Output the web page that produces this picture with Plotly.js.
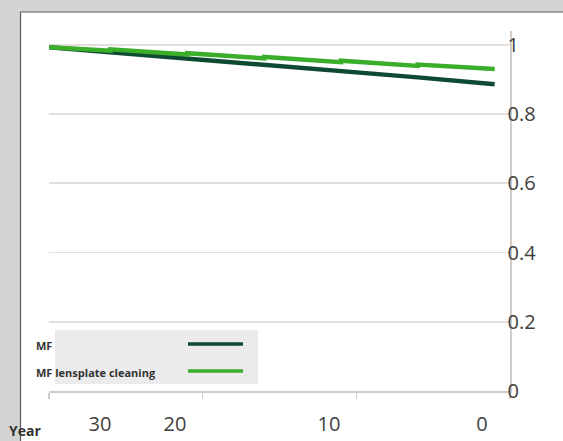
<!DOCTYPE html>
<html><head><meta charset="utf-8">
<script src="https://cdn.plot.ly/plotly-3.0.1.min.js"></script>
<style>html,body{margin:0;padding:0;background:#ffffff;overflow:hidden;} #chart{width:563px;height:441px;}</style>
</head><body><div id="chart"></div>
<script>
// ---- data ----
const mfYears = [30, 26, 21, 16, 11, 6, 1];
const mfValues = [0.993, 0.979, 0.961, 0.943, 0.925, 0.906, 0.886];
const cleanYears = [30, 26, 26, 21, 21, 16, 16, 11, 11, 6, 6, 1];
const cleanValues = [0.993, 0.983, 0.987, 0.972, 0.976, 0.961, 0.965, 0.950, 0.954, 0.939, 0.943, 0.930];
const seriesNames = ["MF", "MF lensplate cleaning"];
const xTickYears = [30, 20, 10, 0];
const xTickLabels = ["30", "20", "10", "0"];
const yTickValues = [0, 0.2, 0.4, 0.6, 0.8, 1];
const yTickLabels = ["0", "0.2", "0.4", "0.6", "0.8", "1"];
const xAxisTitle = "Year";

// ---- layout helpers ----
const W = 563, H = 441, L = 49, R = 53, T = 31, B = 50;
const pw = W - L - R, ph = H - T - B;
const px = x => (x - L) / pw;
const py = y => (H - B - y) / ph;
const xLabelPos = [26.68, 21.8, 11.78, 1.82];
const colors = ["#0e4a31", "#3aae2b"];
const tickFont = {family: "Open Sans", size: 20, color: "#404040"};
const axisGrey = "#d0ccc9";
const outerGrey = "#d4d4d4";

const traces = [
  {x: mfYears, y: mfValues, mode: "lines", name: seriesNames[0],
   line: {color: colors[0], width: 4.5}, hoverinfo: "skip", showlegend: false},
  {x: cleanYears, y: cleanValues, mode: "lines", name: seriesNames[1],
   line: {color: colors[1], width: 4.5}, hoverinfo: "skip", showlegend: false},
  {x: [null], y: [null], xaxis: "x2", mode: "lines", hoverinfo: "skip", showlegend: false}
];

const legendFont = {family: "Open Sans", size: 11, color: "#333333", weight: "bold"};

const layout = {
  width: W, height: H,
  margin: {l: L, r: R, t: T, b: B, pad: 0},
  paper_bgcolor: "#ffffff",
  plot_bgcolor: "#ffffff",
  showlegend: false,
  xaxis: {range: [30, 0], tickvals: xTickYears, showticklabels: false,
          ticks: "outside", ticklen: 6, tickwidth: 1.5, tickcolor: axisGrey,
          showline: true, linecolor: axisGrey, linewidth: 1.5,
          showgrid: false, zeroline: false, fixedrange: true},
  xaxis2: {overlaying: "x", anchor: "y", side: "bottom", range: [30, 0],
           tickvals: xLabelPos, ticktext: xTickLabels, ticks: "",
           showline: false, showgrid: false, zeroline: false,
           tickfont: tickFont, ticklabelstandoff: 19, fixedrange: true},
  yaxis: {side: "right", range: [0, 1.04], tickvals: yTickValues, ticktext: yTickLabels,
          showgrid: true, gridcolor: "#e3dfdc", gridwidth: 1.8,
          showline: true, linecolor: axisGrey, linewidth: 1.5,
          ticks: "", zeroline: false, tickfont: tickFont,
          ticklabelstandoff: -8, fixedrange: true},
  shapes: [
    {type: "rect", xref: "paper", yref: "paper", layer: "below",
     x0: px(-5), x1: px(20), y0: py(460), y1: py(-5),
     fillcolor: outerGrey, line: {width: 0}},
    {type: "rect", xref: "paper", yref: "paper", layer: "below",
     x0: px(-5), x1: px(570), y0: py(12), y1: py(-5),
     fillcolor: outerGrey, line: {width: 0}},
    {type: "line", xref: "paper", yref: "paper", layer: "below",
     x0: px(20.5), x1: px(570), y0: py(12), y1: py(12),
     line: {color: "#5a5a5a", width: 1.2}},
    {type: "line", xref: "paper", yref: "paper", layer: "below",
     x0: px(20.5), x1: px(20.5), y0: py(12), y1: py(460),
     line: {color: "#5a5a5a", width: 1.2}},
    {type: "rect", xref: "paper", yref: "paper", layer: "above",
     x0: px(55), x1: px(258), y0: py(384), y1: py(330),
     fillcolor: "#ebebeb", line: {width: 0}},
    {type: "line", xref: "paper", yref: "paper", layer: "above",
     x0: px(188), x1: px(243), y0: py(344), y1: py(344),
     line: {color: colors[0], width: 3.5}},
    {type: "line", xref: "paper", yref: "paper", layer: "above",
     x0: px(188), x1: px(243), y0: py(371), y1: py(371),
     line: {color: colors[1], width: 3.5}}
  ],
  annotations: [
    {text: seriesNames[0], xref: "paper", yref: "paper", x: px(34), y: py(345),
     xanchor: "left", yanchor: "middle", showarrow: false, font: legendFont},
    {text: seriesNames[1], xref: "paper", yref: "paper", x: px(34), y: py(372),
     xanchor: "left", yanchor: "middle", showarrow: false, font: legendFont},
    {text: xAxisTitle, xref: "paper", yref: "paper", x: px(7), y: py(430),
     xanchor: "left", yanchor: "middle", showarrow: false,
     font: {family: "Open Sans", size: 14, color: "#333333", weight: "bold"}}
  ]
};

Plotly.newPlot("chart", traces, layout, {staticPlot: true, displayModeBar: false});
</script>
</body></html>
